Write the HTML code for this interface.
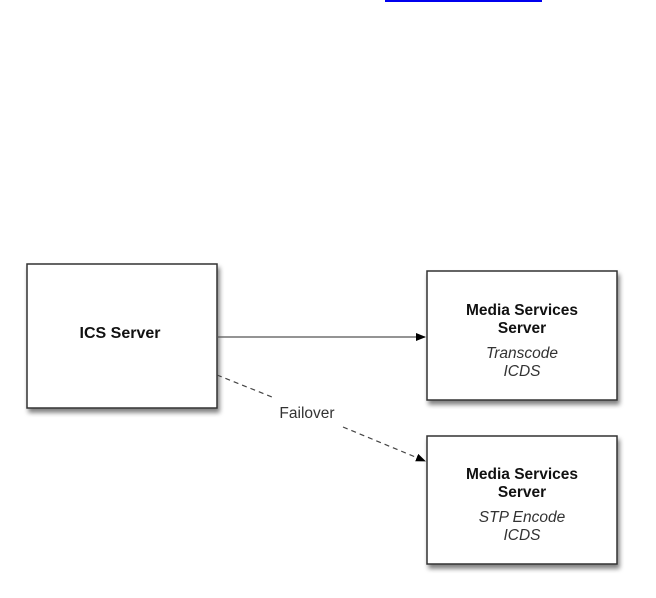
<!DOCTYPE html>
<html><head><style>
html,body{margin:0;padding:0;background:#fff;width:656px;height:598px;overflow:hidden}
</style></head><body>
<svg width="656" height="598" xmlns="http://www.w3.org/2000/svg" font-family="Liberation Sans, Arial, sans-serif">
<defs>
<filter id="sh" x="-10%" y="-10%" width="130%" height="130%"><feGaussianBlur in="SourceAlpha" stdDeviation="2.5"/><feOffset dx="2" dy="4"/><feComponentTransfer><feFuncA type="linear" slope="0.5"/></feComponentTransfer><feMerge><feMergeNode/><feMergeNode in="SourceGraphic"/></feMerge></filter>
<marker id="ar" markerWidth="10" markerHeight="8" refX="9" refY="4" orient="auto" markerUnits="userSpaceOnUse"><path d="M0,0 L10,4 L0,8 z" fill="#000"/></marker>
</defs>
<rect x="385" y="0" width="157" height="2" fill="#0000ee"/>
<rect x="27" y="264" width="190" height="144" fill="#fff" stroke="#333" stroke-width="1.5" filter="url(#sh)"/>
<rect x="427" y="271" width="190" height="129" fill="#fff" stroke="#333" stroke-width="1.5" filter="url(#sh)"/>
<rect x="427" y="436" width="190" height="128" fill="#fff" stroke="#333" stroke-width="1.5" filter="url(#sh)"/>
<line x1="217" y1="337" x2="425" y2="337" stroke="#555" stroke-width="1.2" marker-end="url(#ar)"/>
<line x1="217" y1="375" x2="272" y2="397" stroke="#444" stroke-width="1.2" stroke-dasharray="5,4"/>
<line x1="343" y1="427" x2="425" y2="461" stroke="#444" stroke-width="1.2" stroke-dasharray="5,4" marker-end="url(#ar)"/>
<text x="307" y="418" font-size="15.5" fill="#333" text-anchor="middle">Failover</text>
<text x="120" y="338" font-size="16" font-weight="bold" fill="#111" text-anchor="middle">ICS Server</text>
<g text-anchor="middle" fill="#111">
<text x="522" y="315" font-size="15.5" font-weight="bold">Media Services</text>
<text x="522" y="333" font-size="15.5" font-weight="bold">Server</text>
<text x="522" y="358" font-size="15.5" font-style="italic" fill="#333">Transcode</text>
<text x="522" y="376" font-size="15.5" font-style="italic" fill="#333">ICDS</text>
<text x="522" y="479" font-size="15.5" font-weight="bold">Media Services</text>
<text x="522" y="497" font-size="15.5" font-weight="bold">Server</text>
<text x="522" y="522" font-size="15.5" font-style="italic" fill="#333">STP  Encode</text>
<text x="522" y="540" font-size="15.5" font-style="italic" fill="#333">ICDS</text>
</g>
</svg>
</body></html>
